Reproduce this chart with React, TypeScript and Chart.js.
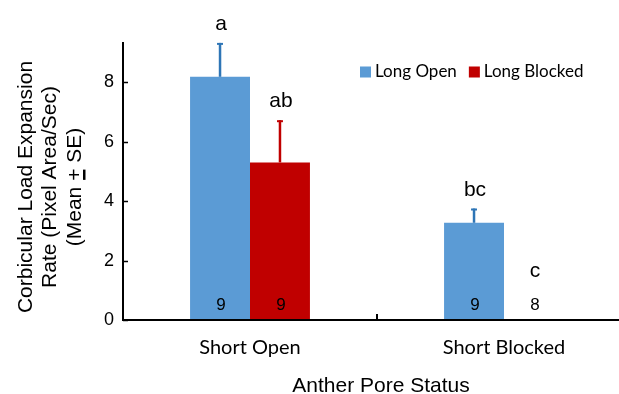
import React, { useEffect, useRef } from 'react';
import { Chart, registerables } from 'chart.js';

Chart.register(...registerables);

const categories = ['Short Open', 'Short Blocked'];
const seriesNames = ['Long Open', 'Long Blocked'];
const longOpenMeans = [8.18, 3.27];
const longBlockedMeans = [5.3, 0.02];
const longOpenSE = [1.14, 0.48];
const longBlockedSE = [1.42, 0];
const longOpenLetters = ['a', 'bc'];
const longBlockedLetters = ['ab', 'c'];
const longOpenN = ['9', '9'];
const longBlockedN = ['9', '8'];
const yTicks = [0, 2, 4, 6, 8];
const yMax = 9.35;
const yTitleLines = ['Corbicular Load Expansion', 'Rate (Pixel Area/Sec)', '(Mean + SE)'];
const xTitle = 'Anther Pore Status';

const BLUE = '#5b9bd5';
const BLUE_ERR = '#2e75b6';
const RED = '#c00000';
const RED_ERR = '#c00000';
const ARIAL = '"Liberation Sans", Arial, sans-serif';
const CAL = 'Lato, "Open Sans", sans-serif';

const seriesExtra = [
  { se: longOpenSE, letters: longOpenLetters, n: longOpenN, err: BLUE_ERR },
  { se: longBlockedSE, letters: longBlockedLetters, n: longBlockedN, err: RED_ERR },
];

const overlay = {
  id: 'overlay',
  afterDatasetsDraw(chart: any) {
    const ctx: CanvasRenderingContext2D = chart.ctx;
    const { left, right, top, bottom } = chart.chartArea;
    const ys = chart.scales.y;
    const xs = chart.scales.x;
    ctx.save();

    // error bars, letters, n labels
    chart.data.datasets.forEach((ds: any, di: number) => {
      const meta = chart.getDatasetMeta(di);
      const ex = seriesExtra[di];
      meta.data.forEach((bar: any, i: number) => {
        const v = ds.data[i];
        const se = ex.se[i];
        const cx = bar.x;
        const topPx = ys.getPixelForValue(v + se);
        if (se > 0) {
          ctx.strokeStyle = ex.err;
          ctx.lineWidth = 2.5;
          ctx.beginPath();
          ctx.moveTo(cx, bar.y);
          ctx.lineTo(cx, topPx);
          ctx.stroke();
          ctx.lineWidth = 2;
          ctx.beginPath();
          ctx.moveTo(cx - 3, topPx + 1);
          ctx.lineTo(cx + 3, topPx + 1);
          ctx.stroke();
        }
        ctx.fillStyle = '#000';
        ctx.textAlign = 'center';
        ctx.textBaseline = 'alphabetic';
        ctx.font = `17px ${ARIAL}`;
        ctx.fillText(ex.n[i], cx + 1, bottom - 10);
        ctx.font = `21px ${ARIAL}`;
        const base = Math.min(topPx - 13, bottom - 43);
        ctx.fillText(ex.letters[i], cx + 1, base);
      });
    });

    // axes
    ctx.strokeStyle = '#000';
    ctx.lineWidth = 2;
    ctx.beginPath();
    ctx.moveTo(left, top);
    ctx.lineTo(left, bottom);
    ctx.lineTo(right, bottom);
    ctx.stroke();
    ctx.lineWidth = 1.5;
    yTicks.forEach((t) => {
      const py = Math.round(ys.getPixelForValue(t)) + 0.5;
      ctx.beginPath();
      ctx.moveTo(left, py);
      ctx.lineTo(left + 5, py);
      ctx.stroke();
    });
    ctx.lineWidth = 2;
    for (let i = 0; i < categories.length - 1; i++) {
      const px = (xs.getPixelForValue(i) + xs.getPixelForValue(i + 1)) / 2;
      ctx.beginPath();
      ctx.moveTo(px, bottom);
      ctx.lineTo(px, bottom - 6);
      ctx.stroke();
    }

    // x title
    ctx.fillStyle = '#000';
    ctx.font = `21px ${ARIAL}`;
    ctx.textAlign = 'center';
    ctx.textBaseline = 'alphabetic';
    ctx.fillText(xTitle, (left + right) / 2 + 4, 392);

    // y title
    const cy = (top + bottom) / 2 + 6;
    const baselines = [32, 56, 81];
    yTitleLines.forEach((line, li) => {
      ctx.save();
      ctx.translate(baselines[li], cy);
      ctx.rotate(-Math.PI / 2);
      ctx.font = `21px ${ARIAL}`;
      ctx.textAlign = 'center';
      ctx.textBaseline = 'alphabetic';
      ctx.fillText(line, 0, 0);
      const pIdx = line.indexOf('+');
      if (pIdx >= 0) {
        const total = ctx.measureText(line).width;
        const pre = ctx.measureText(line.slice(0, pIdx)).width;
        const pw = ctx.measureText('+').width;
        const sx = -total / 2 + pre;
        ctx.fillRect(sx + 1, 2, pw - 2, 2.5);
      }
      ctx.restore();
    });

    // legend
    let lx = 360;
    const ly = 72;
    ctx.font = `17px ${CAL}`;
    ctx.textAlign = 'left';
    ctx.textBaseline = 'middle';
    chart.data.datasets.forEach((ds: any) => {
      ctx.fillStyle = ds.backgroundColor;
      ctx.fillRect(lx, ly - 5.5, 11, 11);
      ctx.fillStyle = '#000';
      ctx.fillText(ds.label, lx + 15, ly);
      lx += 15 + ctx.measureText(ds.label).width + 12;
    });

    ctx.restore();
  },
};

export default function App() {
  const ref = useRef<HTMLCanvasElement>(null);
  useEffect(() => {
    const chart = new Chart(ref.current as HTMLCanvasElement, {
      type: 'bar',
      data: {
        labels: categories,
        datasets: [
          { label: seriesNames[0], data: longOpenMeans, backgroundColor: BLUE, categoryPercentage: 0.472, barPercentage: 1 },
          { label: seriesNames[1], data: longBlockedMeans, backgroundColor: RED, categoryPercentage: 0.472, barPercentage: 1 },
        ],
      },
      options: {
        responsive: false,
        animation: false,
        layout: { padding: { top: 42, right: 9, left: 0, bottom: 0 } },
        plugins: { legend: { display: false }, tooltip: { enabled: false }, title: { display: false } },
        scales: {
          x: {
            grid: { display: false, drawTicks: false },
            border: { display: false },
            ticks: { font: { family: CAL, size: 20 }, color: '#000', padding: 16 },
            afterFit: (s: any) => { s.height = 74; },
          },
          y: {
            min: 0,
            max: yMax,
            grid: { display: false, drawTicks: false },
            border: { display: false },
            afterBuildTicks: (s: any) => { s.ticks = yTicks.map((v) => ({ value: v })); },
            ticks: { font: { family: ARIAL, size: 18 }, color: '#000', padding: 9 },
            afterFit: (s: any) => { s.width = 123; },
          },
        },
      },
      plugins: [overlay],
    });
    return () => chart.destroy();
  }, []);
  return (
    <div style={{ position: 'fixed', left: 0, top: 0, width: 619, height: 394, overflow: 'hidden', background: '#fff' }}>
      <canvas ref={ref} width={640} height={394} style={{ display: 'block' }} />
    </div>
  );
}
